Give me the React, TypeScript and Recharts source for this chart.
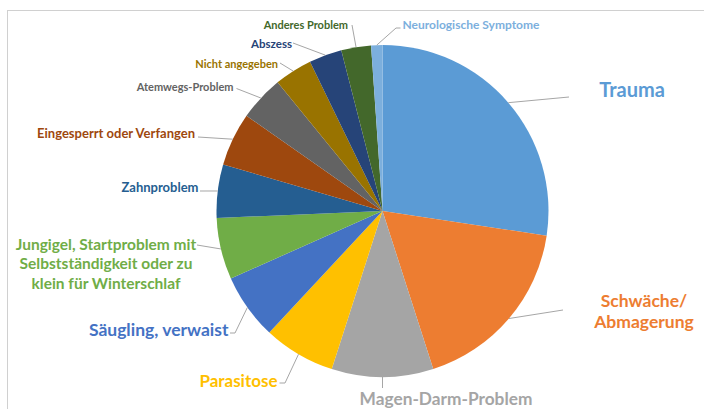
import React from 'react';
import { PieChart, Pie, Cell } from 'recharts';

// Aufnahmegründe (Anteil in %), im Uhrzeigersinn ab 12 Uhr
const categories = [
  'Trauma',
  'Schwäche/ Abmagerung',
  'Magen-Darm-Problem',
  'Parasitose',
  'Säugling, verwaist',
  'Jungigel, Startproblem mit Selbstständigkeit oder zu klein für Winterschlaf',
  'Zahnproblem',
  'Eingesperrt oder Verfangen',
  'Atemwegs-Problem',
  'Nicht angegeben',
  'Abszess',
  'Anderes Problem',
  'Neurologische Symptome',
];

const shares = [27.4, 17.7, 9.9, 7.0, 6.4, 6.0, 5.2, 5.2, 4.4, 3.7, 3.2, 2.9, 1.1];

const labelLines = [
  ['Trauma'],
  ['Schwäche/', 'Abmagerung'],
  ['Magen-Darm-Problem'],
  ['Parasitose'],
  ['Säugling, verwaist'],
  ['Jungigel, Startproblem mit', 'Selbstständigkeit oder zu', 'klein für Winterschlaf'],
  ['Zahnproblem'],
  ['Eingesperrt oder Verfangen'],
  ['Atemwegs-Problem'],
  ['Nicht angegeben'],
  ['Abszess'],
  ['Anderes Problem'],
  ['Neurologische Symptome'],
];

const COLORS = [
  '#5B9BD5', // Blau
  '#ED7D31', // Orange
  '#A5A5A5', // Grau
  '#FFC000', // Gelb
  '#4472C4', // Blau dunkel
  '#70AD47', // Grün
  '#255E91',
  '#9E480E',
  '#636363',
  '#997300',
  '#264478',
  '#43682B',
  '#7CAFDD',
];

const data = categories.map((name, i) => ({ name, value: shares[i] }));

// Platzierung der Beschriftungen relativ zum Kreismittelpunkt
// tx/ty: Textposition, lx/ly: Ende der Führungslinie, ex: optionaler Knick
const LABEL_LAYOUT: Array<{
  tx: number; ty: number; anchor: 'start' | 'middle' | 'end';
  size: number; gap?: number; lx: number; ly: number; ex?: number;
}> = [
  { tx: 249.5, ty: -122, anchor: 'middle', size: 20, lx: 186.5, ly: -114 },
  { tx: 261.5, ty: 88.5, anchor: 'middle', size: 17.5, gap: 21.5, lx: 180.5, ly: 99 },
  { tx: 63.5, ty: 187, anchor: 'middle', size: 17.3, lx: 0, ly: 177 },
  { tx: -105, ty: 168.5, anchor: 'end', size: 17, lx: -97.5, ly: 172, ex: -103 },
  { tx: -154, ty: 117.5, anchor: 'end', size: 17.5, lx: -147.5, ly: 122, ex: -152.5 },
  { tx: -276.5, ty: 32.5, anchor: 'middle', size: 15.5, gap: 19.5, lx: -185.5, ly: 34 },
  { tx: -184, ty: -24.5, anchor: 'end', size: 13, lx: -182.5, ly: -20 },
  { tx: -187.5, ty: -78, anchor: 'end', size: 13, lx: -184.5, ly: -74 },
  { tx: -149, ty: -125.5, anchor: 'end', size: 11, lx: -146, ly: -122.5 },
  { tx: -104.5, ty: -148.5, anchor: 'end', size: 11, lx: -102.5, ly: -148 },
  { tx: -90.5, ty: -168.5, anchor: 'end', size: 11.5, lx: -89.5, ly: -168 },
  { tx: -34.5, ty: -187.5, anchor: 'end', size: 11, lx: -30.5, ly: -186 },
  { tx: 20, ty: -187.5, anchor: 'start', size: 12, lx: 13.5, ly: -183, ex: 18 },
];

const RAD = Math.PI / 180;

const renderLabel = (props: any) => {
  const { cx, cy, midAngle, outerRadius, index } = props;
  const layout = LABEL_LAYOUT[index];
  const color = COLORS[index];
  const sx = cx + outerRadius * Math.cos(-midAngle * RAD);
  const sy = cy + outerRadius * Math.sin(-midAngle * RAD);
  const lx = cx + layout.lx;
  const ly = cy + layout.ly;
  let points = `${sx},${sy} ${lx},${ly}`;
  if (layout.ex !== undefined) points += ` ${cx + layout.ex},${ly}`;
  const lines = labelLines[index];
  const gap = layout.gap ?? 0;
  return (
    <g key={`label-${index}`}>
      <polyline points={points} fill="none" stroke="#A6A6A6" strokeWidth={1} />
      <text
        x={cx + layout.tx}
        y={cy + layout.ty}
        textAnchor={layout.anchor}
        dominantBaseline="central"
        fill={color}
        fontFamily="Lato, 'Open Sans', sans-serif"
        fontWeight={700}
        fontSize={layout.size}
      >
        {lines.map((line, i) => (
          <tspan key={i} x={cx + layout.tx} y={cy + layout.ty + i * gap}>
            {line}
          </tspan>
        ))}
      </text>
    </g>
  );
};

export default function App() {
  return (
    <div
      style={{
        position: 'fixed',
        left: 0,
        top: 0,
        width: 704,
        height: 409,
        overflow: 'hidden',
        background: '#ffffff',
      }}
    >
      <div
        style={{
          position: 'absolute',
          left: 7,
          top: 10,
          width: 720,
          height: 420,
          borderTop: '1px solid #D0D0D0',
          borderLeft: '1px solid #D0D0D0',
        }}
      />
      <div style={{ position: 'absolute', left: 0, top: 0 }}>
        <PieChart
          width={704}
          height={409}
          margin={{ top: 0, right: 0, bottom: 0, left: 0 }}
        >
          <Pie
            data={data}
            dataKey="value"
            nameKey="name"
            cx={382.5}
            cy={211}
            innerRadius={0}
            outerRadius={166}
            startAngle={90}
            endAngle={-270}
            paddingAngle={0}
            stroke="none"
            label={renderLabel}
            labelLine={false}
            isAnimationActive={false}
          >
            {data.map((entry, index) => (
              <Cell key={`cell-${index}`} fill={COLORS[index]} stroke="none" />
            ))}
          </Pie>
        </PieChart>
      </div>
    </div>
  );
}
